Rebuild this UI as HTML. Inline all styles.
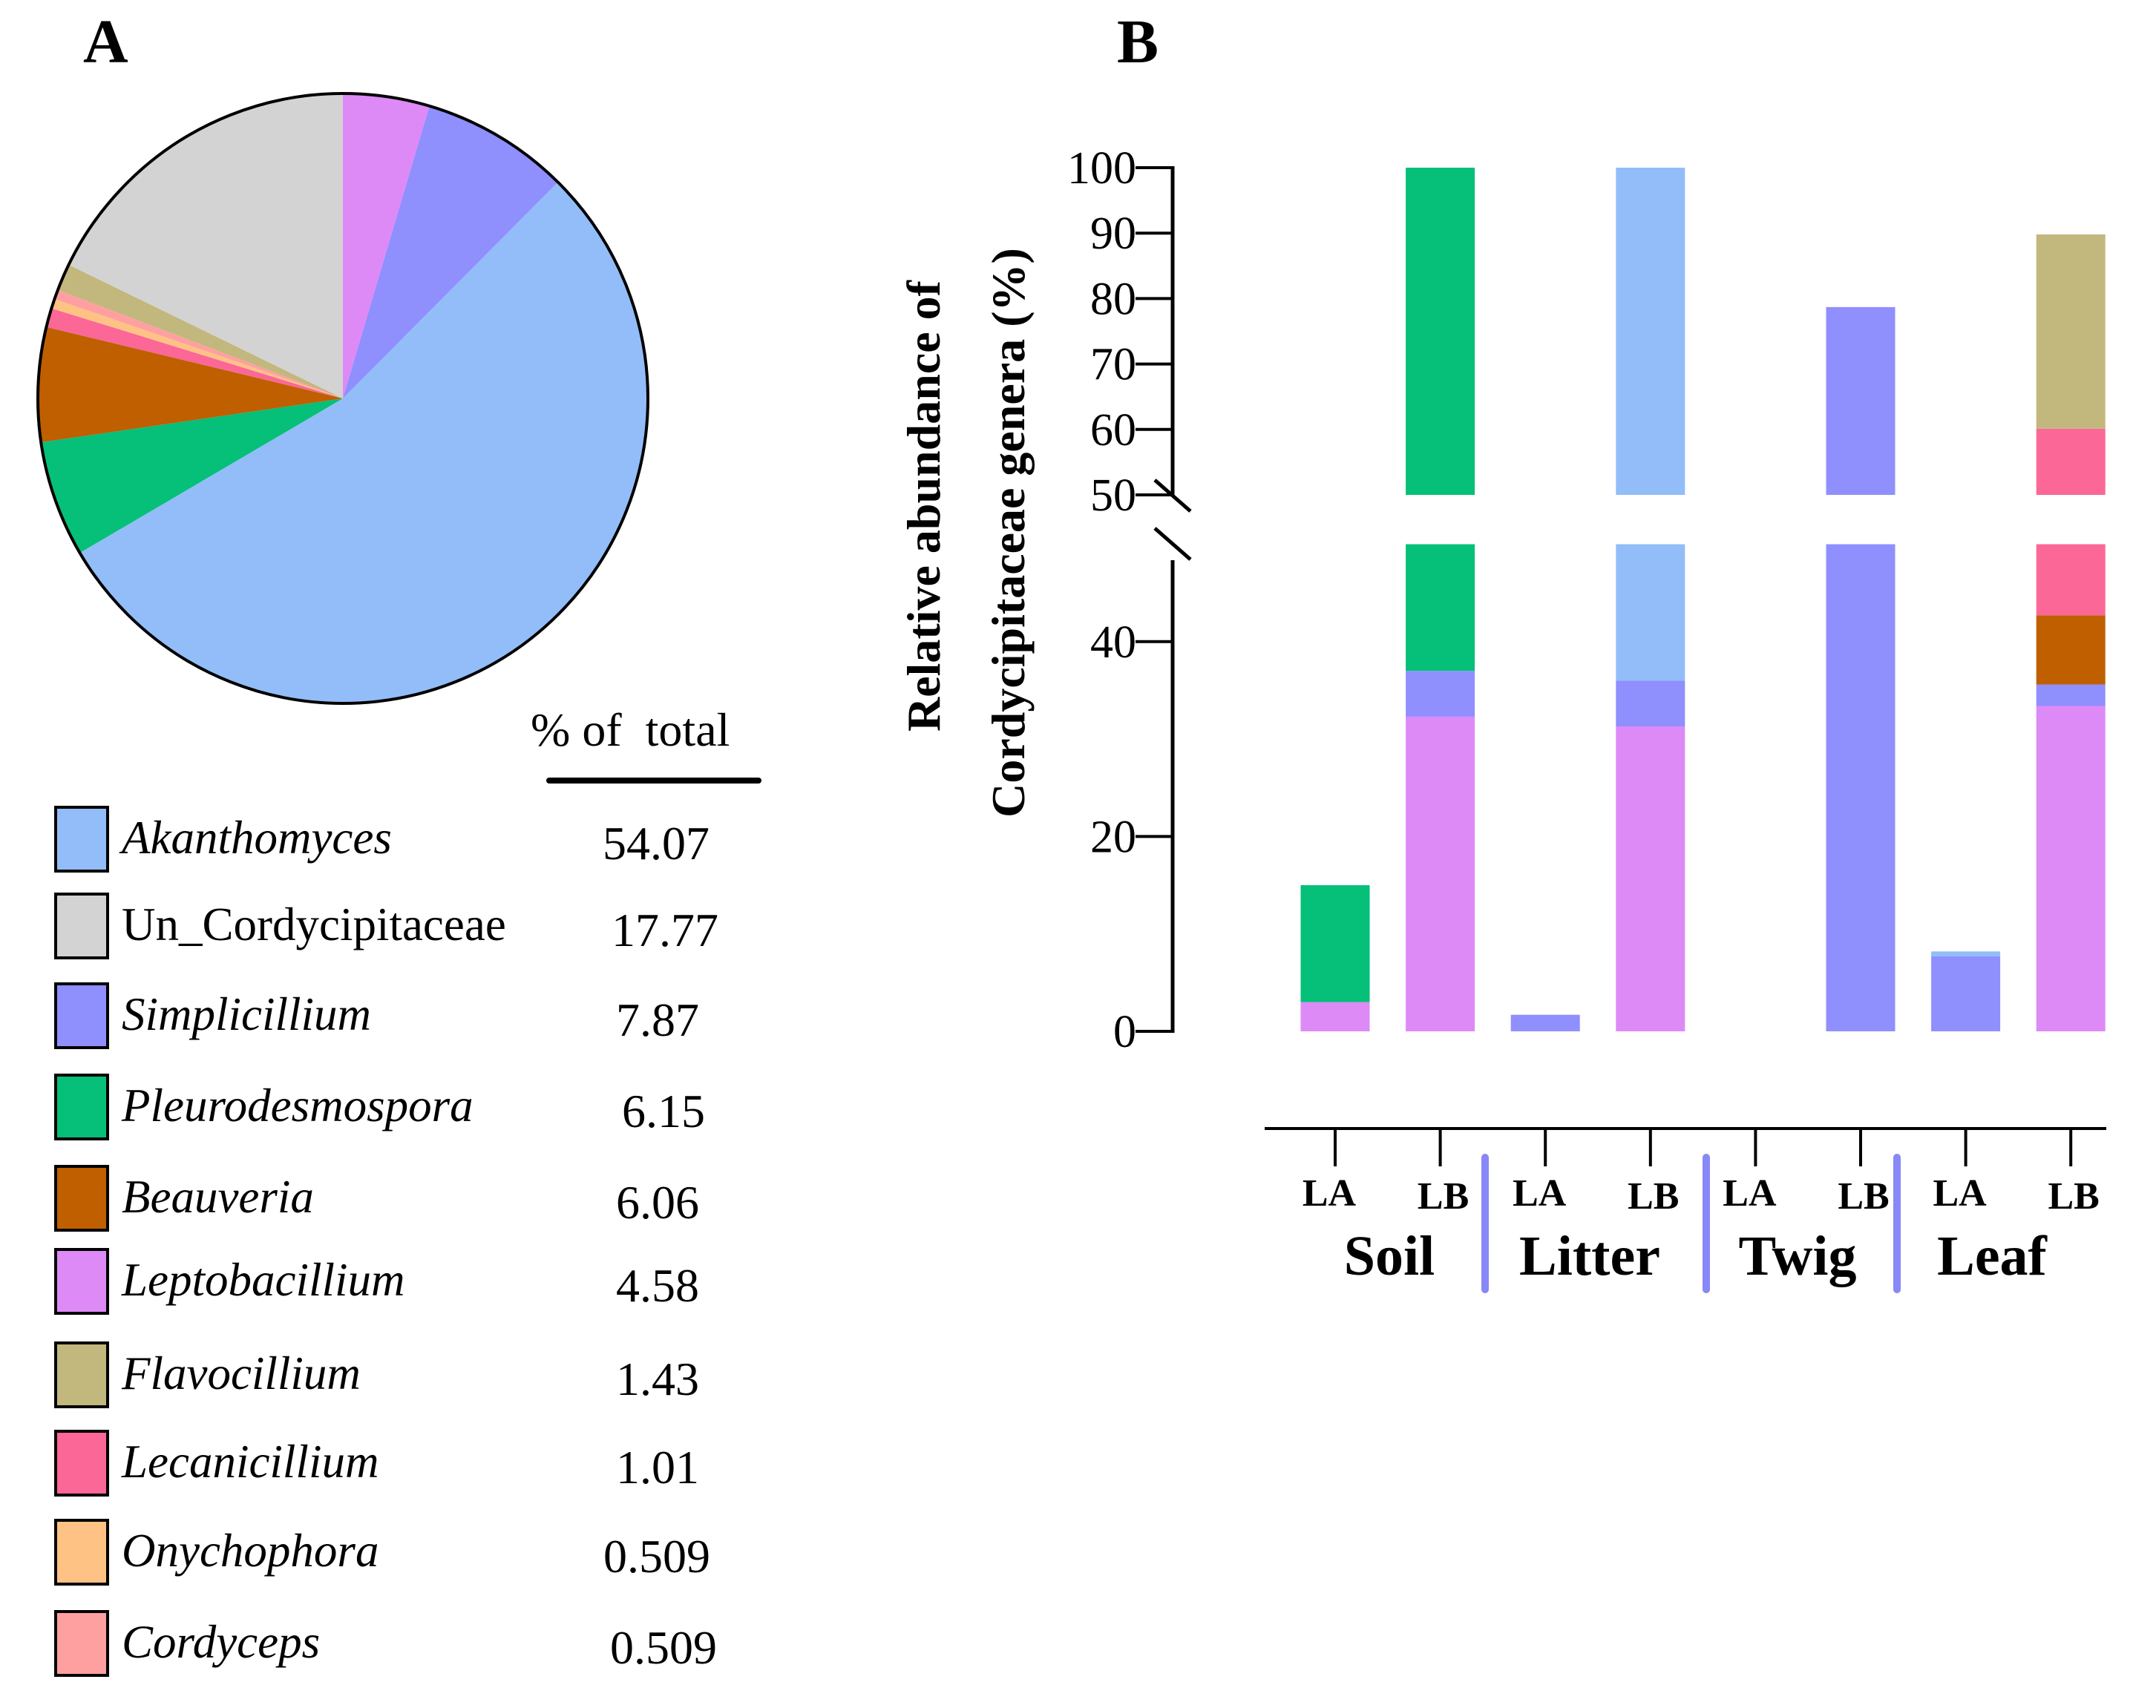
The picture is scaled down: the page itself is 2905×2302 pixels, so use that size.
<!DOCTYPE html>
<html><head><meta charset="utf-8"><style>
body{margin:0;background:#fff}
svg{display:block}
text{font-family:"Liberation Serif",serif;fill:#000;white-space:pre}
</style></head><body>
<svg id="fig" width="2905" height="2302" viewBox="0 0 2905 2302" xmlns="http://www.w3.org/2000/svg">
<text x="112" y="84" font-size="84" font-weight="bold">A</text>
<text x="1505" y="84" font-size="84" font-weight="bold">B</text>
<g id="pie"></g>
<g id="legend">
<text x="715" y="1005" font-size="64" xml:space="preserve">% of  total</text>
<line x1="740" y1="1052" x2="1022" y2="1052" stroke="#000" stroke-width="8" stroke-linecap="round"/>
</g>
<g id="bars"></g>
<g id="axes"></g>
</svg>
<script>
const NS='http://www.w3.org/2000/svg';
function mk(tag,attrs,parent){const e=document.createElementNS(NS,tag);for(const k in attrs)e.setAttribute(k,attrs[k]);parent.appendChild(e);return e;}

// ---- Pie data ----
const genera=['Leptobacillium','Simplicillium','Akanthomyces','Pleurodesmospora','Beauveria','Lecanicillium','Onychophora','Cordyceps','Flavocillium','Un_Cordycipitaceae'];
const pieValues=[4.58,7.87,54.07,6.15,6.06,1.01,0.509,0.509,1.43,17.77];
const colors={Akanthomyces:'#92BDF8',Un_Cordycipitaceae:'#D3D3D3',Simplicillium:'#8F8FFD',Pleurodesmospora:'#06BF78',Beauveria:'#BF5F00',Leptobacillium:'#DD8AF7',Flavocillium:'#C2B77D',Lecanicillium:'#FB6796',Onychophora:'#FFC285',Cordyceps:'#FFA0A0'};

const pie=document.getElementById('pie');
const cx=462,cy=537,r=411;
let total=pieValues.reduce((a,b)=>a+b,0),acc=0;
pieValues.forEach((v,i)=>{
  const a0=acc/total*2*Math.PI-Math.PI/2; acc+=v;
  const a1=acc/total*2*Math.PI-Math.PI/2;
  const large=(a1-a0)>Math.PI?1:0;
  const d=`M${cx},${cy}L${cx+r*Math.cos(a0)},${cy+r*Math.sin(a0)}A${r},${r} 0 ${large} 1 ${cx+r*Math.cos(a1)},${cy+r*Math.sin(a1)}Z`;
  const p=mk('path',{d:d,fill:colors[genera[i]]},pie);
  
  
});
const rim=mk('circle',{cx:cx,cy:cy,r:r,fill:'none',stroke:'#000','stroke-width':4},pie);



// ---- Legend ----
const legendOrder=['Akanthomyces','Un_Cordycipitaceae','Simplicillium','Pleurodesmospora','Beauveria','Leptobacillium','Flavocillium','Lecanicillium','Onychophora','Cordyceps'];
const legendLabels=['54.07','17.77','7.87','6.15','6.06','4.58','1.43','1.01','0.509','0.509'];
const legendRowY=[1128,1245,1366,1489,1612,1724,1850,1969,2089,2212];
const legendValX=[812,824,830,838,830,830,830,830,813,822];
const lg=document.getElementById('legend');
legendOrder.forEach((g,i)=>{
  const y=legendRowY[i];
  const b=mk('rect',{x:75,y:y-40,width:70,height:86,fill:colors[g],stroke:'#000','stroke-width':4},lg);
  
  
  const t=mk('text',{x:164,y:y+22,'font-size':63,'font-style':g==='Un_Cordycipitaceae'?'normal':'italic'},lg);
  t.textContent=g;
  
  
  const v=mk('text',{x:legendValX[i],y:y+30,'font-size':64},lg);
  v.textContent=legendLabels[i];
  
  
});

// ---- Bar chart data ----
const samples=['Soil LA','Soil LB','Litter LA','Litter LB','Twig LA','Twig LB','Leaf LA','Leaf LB'];
const stackOrder=['Leptobacillium','Simplicillium','Akanthomyces','Pleurodesmospora','Beauveria','Lecanicillium','Flavocillium'];
const leptoVals=[3.0,32.3,0,31.3,0,0,0,33.4];
const simplVals=[0,4.7,1.7,4.7,0,78.7,7.7,2.2];
const akanVals=[0,0,0,64.0,0,0,0.5,0];
const pleuroVals=[12.0,63.0,0,0,0,0,0,0];
const beauvVals=[0,0,0,0,0,0,0,7.1];
const lecanVals=[0,0,0,0,0,0,0,17.4];
const flavoVals=[0,0,0,0,0,0,0,29.7];
const seriesVals=[leptoVals,simplVals,akanVals,pleuroVals,beauvVals,lecanVals,flavoVals];
const lowerTicks=[0,20,40];
const upperTicks=[50,60,70,80,90,100];
const groupNames=['Soil','Litter','Twig','Leaf'];

const xAxisStart=1704,xAxisEnd=2838;
function xCenter(i){return 1799+i*141.6;}
const barW=93;
function yLower(v){return 1390-v*13.13;}
function yUpper(v){return 667-(v-50)*8.82;}

const bars=document.getElementById('bars');
samples.forEach((s,i)=>{
  let base=0;
  seriesVals.forEach((arr,k)=>{
    const v=arr[i]; if(v<=0)return;
    const lo=base,hi=base+v; base=hi;
    const x=xCenter(i)-barW/2;
    const name='bar-'+s.toLowerCase().replace(' ','-')+'-'+stackOrder[k].toLowerCase();
    if(lo<50){
      const h=Math.min(hi,50);
      const rc=mk('rect',{x:x,y:yLower(h),width:barW,height:yLower(lo)-yLower(h),fill:colors[stackOrder[k]]},bars);
      
      
    }
    if(hi>50){
      const l=Math.max(lo,50),h=Math.min(hi,100);
      const rc=mk('rect',{x:x,y:yUpper(h),width:barW,height:yUpper(l)-yUpper(h),fill:colors[stackOrder[k]]},bars);
      
      
    }
  });
});

// ---- Axes ----
const ax=document.getElementById('axes');
const axX=1580;
let l1=mk('line',{x1:axX,y1:yUpper(100)-2,x2:axX,y2:667,stroke:'#000','stroke-width':5},ax);


let l2=mk('line',{x1:axX,y1:755,x2:axX,y2:yLower(0)+2,stroke:'#000','stroke-width':5},ax);


[[647,689],[712,754]].forEach(p=>{
  const s=mk('line',{x1:axX-24,y1:p[0],x2:axX+24,y2:p[1],stroke:'#000','stroke-width':5},ax);
  
  
});
function tick(y,label){
  const t=mk('line',{x1:1530,y1:y,x2:axX,y2:y,stroke:'#000','stroke-width':4},ax);
  
  
  const tx=mk('text',{x:1531,y:y+21,'font-size':62,'text-anchor':'end'},ax);
  tx.textContent=label;
  
  
}
lowerTicks.forEach(v=>tick(yLower(v),v));
upperTicks.forEach(v=>tick(yUpper(v),v));

const t1=mk('text',{x:0,y:0,'font-size':64,'font-weight':'bold','text-anchor':'middle',transform:'translate(1266,682) rotate(-90)'},ax);
t1.textContent='Relative abundance of';


const t2=mk('text',{x:0,y:0,'font-size':64,'font-weight':'bold','text-anchor':'middle',transform:'translate(1380,718) rotate(-90)'},ax);
t2.textContent='Cordycipitaceae genera (%)';



const xl=mk('line',{x1:xAxisStart,y1:1521,x2:xAxisEnd,y2:1521,stroke:'#000','stroke-width':4},ax);


samples.forEach((s,i)=>{
  const x=xCenter(i);
  const t=mk('line',{x1:x,y1:1521,x2:x,y2:1572,stroke:'#000','stroke-width':4},ax);
  
  
  const lb=mk('text',{x:x-(i%2?-4:8),y:1625+(i%2?4:0),'font-size':52,'font-weight':'bold','text-anchor':'middle'},ax);
  lb.textContent=s.split(' ')[1];
  
  
});
const groupX=[1872,2142,2422,2684];
groupNames.forEach((g,j)=>{
  const t=mk('text',{x:groupX[j],y:1718,'font-size':76,'font-weight':'bold','text-anchor':'middle'},ax);
  t.textContent=g;
  
  
});
[2001,2299,2556].forEach(x=>{
  const s=mk('line',{x1:x,y1:1560,x2:x,y2:1738,stroke:'#8888F8','stroke-width':10,'stroke-linecap':'round'},ax);
  
  
});
</script>
</body></html>
